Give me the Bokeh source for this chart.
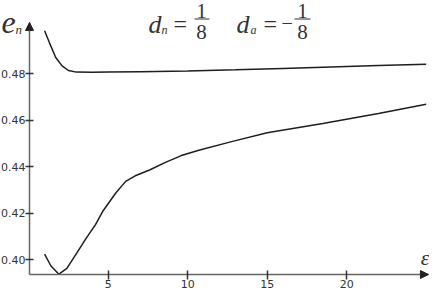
from bokeh.plotting import figure
from bokeh.models import Range1d, FixedTicker, Label, Arrow, NormalHead, NumeralTickFormatter
from bokeh.embed import file_html
from bokeh.resources import INLINE

# data
eps_upper = [1.0, 1.3, 1.7, 2.1, 2.5, 3.0, 4.0, 5.0, 7.0, 10.0, 13.0, 16.0, 19.0, 22.0, 25.0]
e_upper = [0.4984, 0.4933, 0.4869, 0.4833, 0.4813, 0.4806, 0.4805, 0.4806, 0.4808, 0.4811,
           0.4816, 0.4822, 0.4828, 0.4834, 0.4840]

eps_lower = [1.0, 1.4, 1.9, 2.4, 3.0, 3.6, 4.2, 4.7, 5.5, 6.1, 6.7, 7.6, 8.6, 9.6, 10.7,
             12.7, 15.0, 18.5, 22.0, 25.0]
e_lower = [0.4023, 0.3972, 0.3937, 0.3962, 0.4025, 0.4090, 0.4150, 0.4212, 0.4288, 0.4336,
           0.4360, 0.4385, 0.4418, 0.4447, 0.4470, 0.4506, 0.4545, 0.4585, 0.4628, 0.4668]

x_ticks = [5, 10, 15, 20]
y_ticks = [0.40, 0.42, 0.44, 0.46, 0.48]

# axis extents (where the drawn axes cross / end)
AX_X0, AX_X1 = 0.05, 25.14
AX_Y0, AX_Y1 = 0.39355, 0.50194

p = figure(width=429, height=292, output_backend="svg", toolbar_location=None,
           x_range=Range1d(-1.774, 25.208), y_range=Range1d(0.38581, 0.51140),
           min_border=0)
p.outline_line_color = None
p.grid.visible = False
p.background_fill_color = "white"

p.line(eps_upper, e_upper, line_color="#1e1e1e", line_width=1.5)
p.line(eps_lower, e_lower, line_color="#1e1e1e", line_width=1.5)

for ax in (p.xaxis[0], p.yaxis[0]):
    ax.axis_line_color = "#666666"
    ax.axis_line_width = 1.5
    ax.major_tick_line_color = "#333333"
    ax.major_tick_line_width = 1.5
    ax.minor_tick_line_color = None
    ax.major_label_text_font = "DejaVu Sans"
    ax.major_label_text_font_size = "11px"
    ax.major_label_text_color = "#333333"
    ax.major_label_standoff = 0

p.xaxis.ticker = FixedTicker(ticks=x_ticks)
p.xaxis.major_tick_in = 4
p.xaxis.major_tick_out = 5
p.xaxis.fixed_location = AX_Y0
p.xaxis.bounds = (AX_X0, AX_X1)
p.yaxis.ticker = FixedTicker(ticks=y_ticks)
p.yaxis.formatter = NumeralTickFormatter(format="0.00")
p.yaxis.major_tick_in = 4
p.yaxis.major_tick_out = 4
p.yaxis.fixed_location = AX_X0
p.yaxis.bounds = (AX_Y0, AX_Y1)

# axis arrow heads
p.add_layout(Arrow(end=NormalHead(size=8, fill_color="#222222", line_color="#222222"),
                   x_start=AX_X0, y_start=AX_Y1 - 0.004, x_end=AX_X0, y_end=AX_Y1,
                   line_color="#666666", line_width=1.5))
p.add_layout(Arrow(end=NormalHead(size=8, fill_color="#222222", line_color="#222222"),
                   x_start=AX_X1 - 0.5, y_start=AX_Y0, x_end=AX_X1, y_end=AX_Y0,
                   line_color="#666666", line_width=1.5))

def px(x):
    return (x - 36.2) / 15.9

def py(y):
    return AX_Y0 + (282 - y) / 2325.0

serif = "Liberation Serif"
col = "#333333"

def lab(text, x, y, size, italic=True, align="left", baseline="alphabetic"):
    p.add_layout(Label(x=px(x), y=py(y), text=text, text_font=serif,
                       text_font_size=f"{size}px", text_font_style="italic" if italic else "normal",
                       text_color=col, text_align=align, text_baseline=baseline))

# axis titles
lab("e", 9, 30, 32)
lab("n", 23, 37, 13)
lab("ε", 437, 265, 22, align="right")

# formula d_n = 1/8   d_a = -1/8
lab("d", 156, 32, 26)
lab("n", 169, 37, 12)
lab("=", 181, 31, 24, italic=False)
lab("1", 209, 25, 21, italic=False, align="center", baseline="bottom")
lab("8", 209, 32, 21, italic=False, align="center", baseline="top")
lab("d", 244, 32, 26)
lab("a", 258, 37, 12)
lab("=", 271, 31, 24, italic=False)
lab("−", 289, 30, 20, italic=False)
lab("1", 310, 25, 21, italic=False, align="center", baseline="bottom")
lab("8", 310, 32, 21, italic=False, align="center", baseline="top")

for a, b in ((202, 217), (302, 318)):
    p.add_layout(Arrow(start=None, end=None, x_start=px(a), x_end=px(b),
                       y_start=py(26.5), y_end=py(26.5), line_color=col, line_width=1.2))

open("out.html", "w").write(file_html(p, INLINE))
